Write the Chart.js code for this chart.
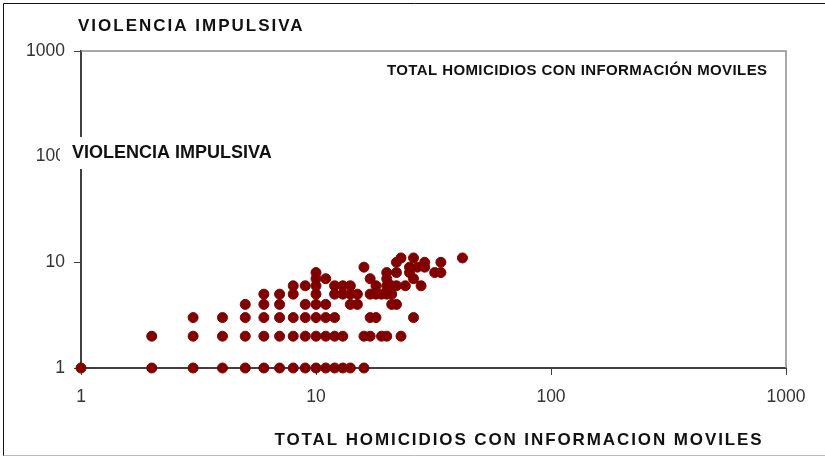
<!DOCTYPE html>
<html>
<head>
<meta charset="utf-8">
<script src="https://cdn.jsdelivr.net/npm/chart.js@4"></script>
<style>
body { margin: 0; background: #fff; }
#wrap { width: 825px; height: 458px; }
</style>
</head>
<body>
<div id="wrap"><canvas id="chart"></canvas></div>
<script>
// total homicidios (x) and violencia impulsiva (y), one pair per point
const homicidios = [
    1, 2, 3, 4, 5, 6, 7, 8, 9, 10, 11, 12, 13, 14, 16,
    2, 3, 4, 5, 6, 7, 8, 9, 10, 11, 12, 13, 16, 17, 19, 20, 23,
    3, 4, 5, 6, 7, 8, 9, 10, 11, 12, 17, 18, 26,
    5, 6, 7, 9, 10, 11, 14, 15, 21, 22,
    6, 7, 8, 10, 12, 13, 14, 15, 17, 18, 19, 20, 21,
    8, 9, 10, 12, 13, 14, 18, 20, 21, 22, 24, 28,
    10, 11, 17, 20, 26,
    10, 20, 22, 25, 32, 34,
    16, 25, 27, 29,
    22, 29, 34,
    23, 26, 42
]
const impulsiva = [
    1, 1, 1, 1, 1, 1, 1, 1, 1, 1, 1, 1, 1, 1, 1,
    2, 2, 2, 2, 2, 2, 2, 2, 2, 2, 2, 2, 2, 2, 2, 2, 2,
    3, 3, 3, 3, 3, 3, 3, 3, 3, 3, 3, 3, 3,
    4, 4, 4, 4, 4, 4, 4, 4, 4, 4,
    5, 5, 5, 5, 5, 5, 5, 5, 5, 5, 5, 5, 5,
    6, 6, 6, 6, 6, 6, 6, 6, 6, 6, 6, 6,
    7, 7, 7, 7, 7,
    8, 8, 8, 8, 8, 8,
    9, 9, 9, 9,
    10, 10, 10,
    11, 11, 11
]
const tick_values = [1, 10, 100, 1000]

const y_title = "VIOLENCIA IMPULSIVA"
const x_title = "TOTAL HOMICIDIOS CON INFORMACION MOVILES"
const legend_x = "TOTAL HOMICIDIOS CON INFORMACIÓN MOVILES"
const legend_y = "VIOLENCIA IMPULSIVA"

let points = []
for (let i = 0; i < homicidios.length; i++) {
    points.push({x: homicidios[i], y: impulsiva[i]})
}

const tick_font = {family: "Liberation Sans", size: 17.5}

const labels_plugin = {
    id: 'labels',
    afterDraw(chart) {
        const ctx = chart.ctx
        const area = chart.chartArea
        ctx.save()
        // plot border, top and right
        ctx.strokeStyle = '#8c8c8c'
        ctx.lineWidth = 1.5
        ctx.beginPath()
        ctx.moveTo(area.left, area.top)
        ctx.lineTo(area.right, area.top)
        ctx.lineTo(area.right, area.bottom)
        ctx.stroke()

        // outer frame
        ctx.strokeStyle = '#111'
        ctx.lineWidth = 1
        ctx.beginPath()
        ctx.moveTo(3.5, 456)
        ctx.lineTo(3.5, 3.5)
        ctx.lineTo(825, 3.5)
        ctx.stroke()
        ctx.strokeStyle = '#bbb'
        ctx.beginPath()
        ctx.moveTo(3.5, 455.5)
        ctx.lineTo(825, 455.5)
        ctx.stroke()

        ctx.fillStyle = '#111'
        ctx.textBaseline = 'middle'
        ctx.textAlign = 'left'
        ctx.font = "bold 17px 'Liberation Sans'"
        ctx.letterSpacing = '2px'
        ctx.fillText(y_title, 78, 26)

        ctx.textAlign = 'center'
        ctx.letterSpacing = '1.9px'
        ctx.fillText(x_title, 519, 440)

        ctx.letterSpacing = '0.4px'
        ctx.textAlign = 'left'
        ctx.font = "bold 15px 'Liberation Sans'"
        ctx.fillText(legend_x, 387, 71)

        // inner label sits over the 100 tick label
        ctx.letterSpacing = '0px'
        ctx.fillStyle = '#fff'
        ctx.fillRect(60, 137, 219, 32)
        ctx.fillStyle = '#111'
        ctx.font = "bold 18px 'Liberation Sans'"
        ctx.fillText(legend_y, 72, 153)
        ctx.restore()
    }
}

new Chart(document.getElementById('chart'), {
    type: 'scatter',
    data: {
        datasets: [{
            label: y_title,
            data: points,
            backgroundColor: '#800000',
            borderColor: '#800000',
            pointRadius: 5,
            pointHoverRadius: 5,
            clip: false
        }]
    },
    options: {
        responsive: true,
        maintainAspectRatio: false,
        animation: false,
        events: [],
        layout: {padding: {top: 51, right: 39, left: 0, bottom: 0}},
        plugins: {
            legend: {display: false},
            tooltip: {enabled: false}
        },
        scales: {
            x: {
                type: 'logarithmic',
                min: 1,
                max: 1000,
                afterBuildTicks: s => { s.ticks = tick_values.map(v => ({value: v})) },
                afterFit: s => { s.height = 90 },
                ticks: {
                    callback: v => String(v),
                    font: tick_font,
                    color: '#333',
                    padding: 12,
                    maxRotation: 0,
                    autoSkip: false
                },
                grid: {drawOnChartArea: false, drawTicks: true, tickLength: 7, color: '#404040'},
                border: {color: '#404040', width: 2}
            },
            y: {
                type: 'logarithmic',
                min: 1,
                max: 1000,
                afterBuildTicks: s => { s.ticks = tick_values.map(v => ({value: v})) },
                afterFit: s => { s.width = 81 },
                ticks: {
                    callback: v => String(v),
                    font: tick_font,
                    color: '#333',
                    padding: 9,
                    autoSkip: false
                },
                grid: {drawOnChartArea: false, drawTicks: true, tickLength: 7, color: '#404040'},
                border: {color: '#404040', width: 2}
            }
        }
    },
    plugins: [labels_plugin]
})
</script>
</body>
</html>
